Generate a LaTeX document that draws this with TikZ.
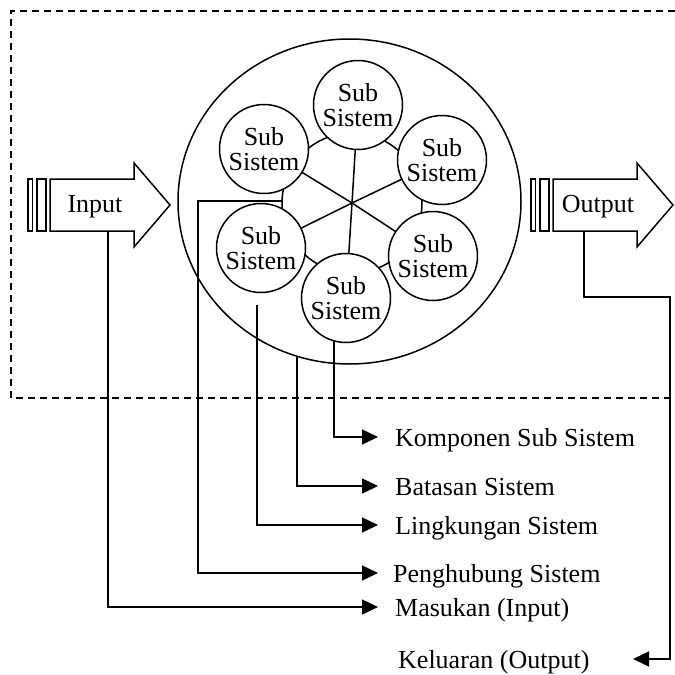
\documentclass[tikz,border=0pt]{standalone}
\usepackage{fontspec}
\setmainfont{Liberation Serif}
\usetikzlibrary{arrows.meta,shapes.geometric,backgrounds}

\tikzset{
  stroke/.style={line width=1.5pt},
  flowarrow/.pic={
    % two thin bars followed by a block arrow
    \draw[stroke] (0,-26) rectangle (4.5,26);
    \draw[stroke] (9,-26) rectangle (18,26);
    \draw[stroke] (22,-26) -- (106,-26) -- (106,-42) -- (142,0) -- (106,42) -- (106,26) -- (22,26) -- cycle;
  }
}

\begin{document}
\begin{tikzpicture}[x=1pt,y=-1pt,
  line width=1.5pt,
  txt/.style={font=\fontsize{26}{25}\selectfont, inner sep=0pt},
  subsys/.style={circle, draw, stroke, fill=white, minimum size=89pt, inner sep=0pt,
                 align=center, font=\fontsize{26}{25}\selectfont},
  lbl/.style={txt, anchor=base west},
  link/.style={stroke, -{Triangle[length=16pt,width=15pt]}},
  frame/.style={stroke, dash pattern=on 7pt off 5pt},
]
\useasboundingbox (0,0) rectangle (675,675);

% dashed system frame, open to the right
\draw[frame] (675,11) -- (11,11) -- (11,398) -- (675,398);

% system boundary
\node[draw, stroke, ellipse, minimum width=343pt, minimum height=325pt, inner sep=0pt]
  (boundary) at (349.5,201.5) {};

% subsystems
\coordinate (hub) at (352,203);
\node[subsys] (s1) at (358,105) {Sub\\Sistem};
\node[subsys] (s2) at (442,160) {Sub\\Sistem};
\node[subsys] (s3) at (433,256) {Sub\\Sistem};
\node[subsys] (s4) at (346,298) {Sub\\Sistem};
\node[subsys] (s5) at (261,248) {Sub\\Sistem};
\node[subsys] (s6) at (264,149) {Sub\\Sistem};

\begin{pgfonlayer}{background}
  \draw[stroke] (hub) circle [radius=70];
  \foreach \s in {s1,s2,s3,s4,s5,s6} \draw[stroke] (\s.center) -- (hub);
\end{pgfonlayer}

% input and output arrows
\pic at (28,205) {flowarrow};
\node[txt, anchor=base] (inTxt) at (95,212) {Input};
\pic at (531,205) {flowarrow};
\node[txt, anchor=base] (outTxt) at (598,212) {Output};

% connector end points
\coordinate (inFoot) at (108,231);
\coordinate (outFoot) at (584,231);
\coordinate (ringW) at (282,201);
\coordinate (pBend) at (198,201);
\coordinate (envTop) at (257,305);
\coordinate (bndTop) at (297,356);
\coordinate (cmpTop) at (334,341);
\coordinate (kTip) at (378,437);
\coordinate (bTip) at (378,486);
\coordinate (lTip) at (378,525);
\coordinate (pTip) at (378,573);
\coordinate (mTip) at (378,607);
\coordinate (oBend) at (670,297);
\coordinate (oTip) at (633,659);

% labels
\node[lbl] (kLbl) at (395,446.5) {Komponen Sub Sistem};
\node[lbl] (bLbl) at (395,495.5) {Batasan Sistem};
\node[lbl] (lLbl) at (395,534.5) {Lingkungan Sistem};
\node[lbl] (pLbl) at (393,582.5) {Penghubung Sistem};
\node[lbl] (mLbl) at (395,616.5) {Masukan (Input)};
\node[lbl] (oLbl) at (398,668.5) {Keluaran (Output)};

% connectors
\draw[link] (cmpTop) |- (kTip);
\draw[link] (bndTop) |- (bTip);
\draw[link] (envTop) |- (lTip);
\draw[link] (ringW) -- (pBend) |- (pTip);
\draw[link] (inFoot) |- (mTip);
\draw[link] (outFoot) |- (oBend) |- (oTip);
\end{tikzpicture}
\end{document}
